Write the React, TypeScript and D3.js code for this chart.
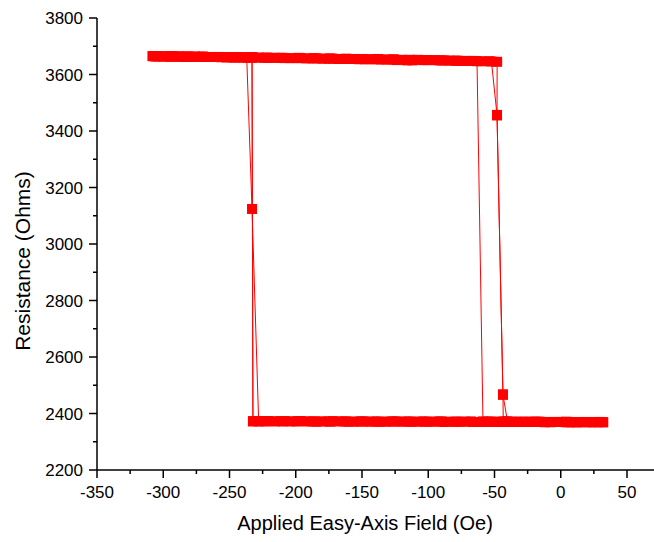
import React from "react";
import * as d3 from "d3";

// ---- Data (Applied Easy-Axis Field in Oe, Resistance in Ohms) ----
// Loop 1
const fieldDown1 = [32, 24, 16, 8, 0, -8, -16, -24, -32, -40, -48, -56, -64, -72, -80, -88, -96, -104, -112, -120, -128, -136, -144, -152, -160, -168, -176, -184, -192, -200, -208, -216, -224, -228, -233, -237, -244, -252, -260, -268, -276, -284, -292, -300, -308];
const resDown1 = [2369, 2370, 2369, 2370, 2370, 2369, 2371, 2370, 2370, 2371, 2370, 2371, 2370, 2371, 2371, 2370, 2371, 2372, 2371, 2371, 2372, 2371, 2371, 2372, 2371, 2372, 2372, 2371, 2372, 2372, 2373, 2372, 2372, 2373, 3124, 3660, 3661, 3661, 3662, 3662, 3663, 3663, 3664, 3664, 3665];
const fieldUp1 = [-308, -300, -292, -284, -276, -268, -260, -252, -244, -236, -228, -220, -212, -204, -196, -188, -180, -172, -164, -156, -148, -140, -132, -124, -116, -108, -100, -92, -84, -76, -68, -60, -52.3, -48.1, -43.6, -40.2, -32, -24, -16, -8, 0, 8, 16, 24, 32];
const resUp1 = [3665, 3664, 3664, 3663, 3663, 3662, 3662, 3661, 3661, 3660, 3660, 3659, 3659, 3658, 3658, 3657, 3656, 3656, 3655, 3655, 3654, 3654, 3653, 3651, 3650, 3652, 3651, 3650, 3649, 3648, 3648, 3647, 3646, 3457, 2466, 2372, 2371, 2371, 2370, 2370, 2370, 2369, 2370, 2369, 2369];

// Loop 2
const fieldDown2 = [28, 20, 12, 4, -4, -12, -20, -28, -36, -44, -52, -60, -68, -76, -84, -92, -100, -108, -116, -124, -132, -140, -148, -156, -164, -172, -180, -188, -196, -204, -212, -220, -228, -232.3, -233, -240, -248, -256, -264, -272, -280, -288, -296, -304];
const resDown2 = [2370, 2369, 2370, 2371, 2370, 2370, 2371, 2371, 2370, 2371, 2371, 2370, 2372, 2371, 2371, 2372, 2371, 2371, 2372, 2372, 2371, 2372, 2372, 2371, 2372, 2373, 2372, 2372, 2373, 2372, 2373, 2373, 2372, 2373, 3660, 3661, 3661, 3662, 3662, 3663, 3663, 3664, 3664, 3665];
const fieldUp2 = [-304, -296, -288, -280, -272, -264, -256, -248, -240, -232, -224, -216, -208, -200, -192, -184, -176, -168, -160, -152, -144, -136, -128, -120, -112, -104, -96, -88, -80, -72, -63.2, -58.7, -52, -44, -36, -28, -20, -12, -4, 4, 12, 20, 28];
const resUp2 = [3664, 3664, 3663, 3663, 3662, 3662, 3661, 3661, 3660, 3660, 3659, 3659, 3658, 3658, 3657, 3657, 3656, 3655, 3655, 3654, 3654, 3653, 3653, 3652, 3650, 3651, 3651, 3650, 3649, 3648, 3647, 2372, 2371, 2371, 2370, 2370, 2370, 2369, 2370, 2369, 2369, 2370, 2369];

// Loop 3
const fieldDown3 = [30, 18, 6, -6, -18, -30, -42, -54, -66, -78, -90, -102, -114, -126, -138, -150, -162, -174, -186, -198, -210, -222, -232.3, -233, -246, -258, -270, -282, -294, -306];
const resDown3 = [2370, 2370, 2369, 2370, 2371, 2370, 2371, 2371, 2370, 2371, 2372, 2371, 2371, 2372, 2371, 2372, 2372, 2371, 2372, 2373, 2372, 2373, 2372, 3661, 3661, 3662, 3663, 3663, 3664, 3664];
const fieldUp3 = [-306, -294, -282, -270, -258, -246, -234, -222, -210, -198, -186, -174, -162, -150, -138, -126, -114, -102, -90, -78, -66, -54, -48, -48.1, -43.6, -43.4, -36, -24, -12, 0, 12, 24, 30];
const resUp3 = [3665, 3664, 3663, 3663, 3662, 3661, 3661, 3660, 3659, 3659, 3658, 3657, 3656, 3655, 3655, 3654, 3652, 3651, 3650, 3649, 3648, 3647, 3645, 3455, 2468, 2371, 2371, 2370, 2370, 2370, 2369, 2369, 2370];

const xTicks = [-350, -300, -250, -200, -150, -100, -50, 0, 50];
const xMinor = [-325, -275, -225, -175, -125, -75, -25, 25];
const yTicks = [2200, 2400, 2600, 2800, 3000, 3200, 3400, 3600, 3800];
const yMinor = [2300, 2500, 2700, 2900, 3100, 3300, 3500, 3700];

const xTitle = "Applied Easy-Axis Field (Oe)";
const yTitle = "Resistance (Ohms)";

const W = 654;
const H = 542;
const RED = "#ff0000";
const FONT = "'Liberation Sans', Arial, Helvetica, sans-serif";

export default function App() {
  const x = d3.scaleLinear().domain([-350, 70]).range([97, 653.5]);
  const y = d3.scaleLinear().domain([2200, 3800]).range([470, 18]);

  const sweeps = [
    [fieldDown1, resDown1, fieldUp1, resUp1],
    [fieldDown2, resDown2, fieldUp2, resUp2],
    [fieldDown3, resDown3, fieldUp3, resUp3],
  ].map(([fd, rd, fu, ru]) => {
    const pts: [number, number][] = [];
    fd.forEach((f, i) => pts.push([f, rd[i]]));
    fu.forEach((f, i) => pts.push([f, ru[i]]));
    return pts;
  });

  const line = d3
    .line<[number, number]>()
    .x((d) => x(d[0]))
    .y((d) => y(d[1]));

  const ms = 10;
  const x0 = x(-350);
  const yBase = y(2200);

  return (
    <svg
      width={W}
      height={H}
      viewBox={`0 0 ${W} ${H}`}
      style={{ position: "absolute", left: 0, top: 0, display: "block", background: "#fff" }}
    >
      <rect x={0} y={0} width={W} height={H} fill="#fff" />
      {/* lines */}
      {sweeps.map((pts, i) => (
        <path key={"l" + i} d={line(pts) || ""} fill="none" stroke={RED} strokeWidth={1} />
      ))}
      {/* markers */}
      {sweeps.map((pts, i) => (
        <g key={"m" + i}>
          {pts.map((p, j) => (
            <rect
              key={j}
              x={x(p[0]) - ms / 2}
              y={y(p[1]) - ms / 2}
              width={ms}
              height={ms}
              fill={RED}
            />
          ))}
        </g>
      ))}

      {/* axes */}
      <g stroke="#000" strokeWidth={1.5} fill="none">
        <line x1={x0} x2={x0} y1={y(3800)} y2={yBase} />
        <line x1={x0} x2={W} y1={yBase} y2={yBase} />
        {yTicks.map((t) => (
          <line key={"yt" + t} x1={x0 - 8} x2={x0} y1={y(t)} y2={y(t)} />
        ))}
        {yMinor.map((t) => (
          <line key={"ym" + t} x1={x0 - 4} x2={x0} y1={y(t)} y2={y(t)} />
        ))}
        {xTicks.map((t) => (
          <line key={"xt" + t} x1={x(t)} x2={x(t)} y1={yBase} y2={yBase + 8} />
        ))}
        {xMinor.map((t) => (
          <line key={"xm" + t} x1={x(t)} x2={x(t)} y1={yBase} y2={yBase + 4} />
        ))}
      </g>

      <g fontFamily={FONT} fontSize={17} fill="#000">
        {yTicks.map((t) => (
          <text key={"yl" + t} x={x0 - 14} y={y(t) + 6} textAnchor="end">
            {t}
          </text>
        ))}
        {xTicks.map((t) => (
          <text key={"xl" + t} x={x(t)} y={yBase + 28} textAnchor="middle">
            {t}
          </text>
        ))}
      </g>

      <text
        x={365}
        y={530}
        textAnchor="middle"
        fontFamily={FONT}
        fontSize={20}
        fill="#000"
      >
        {xTitle}
      </text>
      <text
        transform={`translate(30, 261) rotate(-90)`}
        textAnchor="middle"
        fontFamily={FONT}
        fontSize={21}
        fill="#000"
      >
        {yTitle}
      </text>
    </svg>
  );
}
